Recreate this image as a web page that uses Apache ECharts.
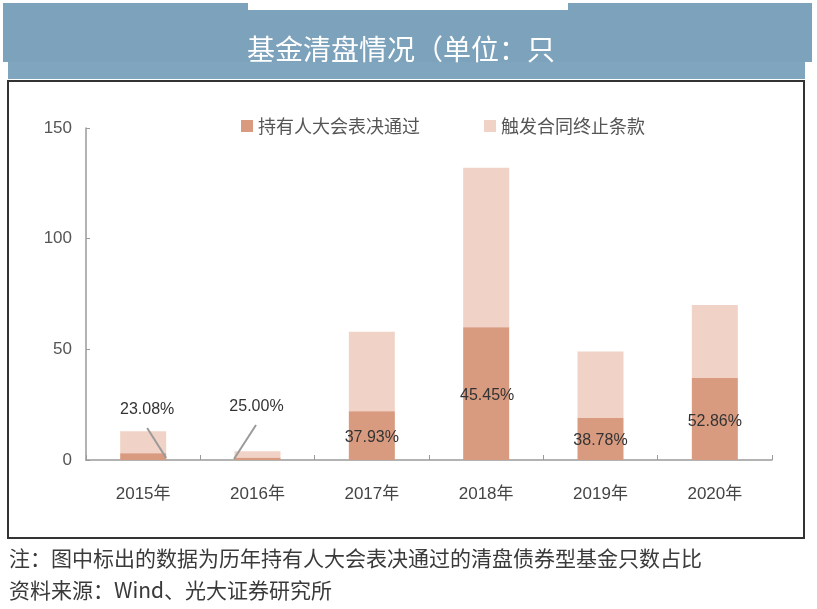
<!DOCTYPE html>
<html>
<head>
<meta charset="utf-8">
<script src="https://cdn.jsdelivr.net/npm/echarts@6/dist/echarts.min.js"></script>
<style>
html,body{margin:0;padding:0;background:#fff;}
#c{width:817px;height:609px;}
</style>
</head>
<body>
<div id="c"></div>
<script>
// ---- data ----
const categories = ['2015年','2016年','2017年','2018年','2019年','2020年'];
const voteCounts = [3, 1, 22, 60, 19, 37];          // 持有人大会表决通过
const clauseCounts = [10, 3, 36, 72, 30, 33];       // 触发合同终止条款
const yTicks = [0, 50, 100, 150];

// ---- label placement config (pixel offsets from bar centre at baseline) ----
const labelOffsets = [[4,-50],[-1,-53],[0,-22],[1,-64],[0,-19],[0,-38]];
const leaders = [
  {i:0, from:[4,-32], to:[23,-2]},
  {i:1, from:[-1.5,-35], to:[-23.5,-1]}
];

const FONT = '"Liberation Sans", "Noto Sans CJK SC", sans-serif';
const CJK = '"Noto Sans CJK SC", "Liberation Sans", sans-serif';

const shares = voteCounts.map((v, i) => (v / (v + clauseCounts[i]) * 100).toFixed(2) + '%');

const chart = echarts.init(document.getElementById('c'), null, {renderer:'canvas'});

const darkData = voteCounts.map((v, i) => ({
  value: v,
  label: {
    show: true,
    position: 'insideBottom',
    distance: 0,
    verticalAlign: 'middle',
    offset: labelOffsets[i],
    formatter: shares[i]
  }
}));

const option = {
  animation: false,
  backgroundColor: '#ffffff',
  grid: {left: 86, right: 45, top: 128, bottom: 149},
  legend: {
    left: 236, top: 112,
    itemWidth: 12, itemHeight: 12, itemGap: 64,
    icon: 'rect',
    textStyle: {fontFamily: CJK, fontSize: 18, color: '#555'},
    data: ['持有人大会表决通过','触发合同终止条款']
  },
  xAxis: {
    type: 'category',
    data: categories,
    axisLine: {lineStyle: {color: '#9a9a9a', width: 1.5}},
    axisTick: {show: true, inside: true, length: 5, lineStyle: {color: '#9a9a9a'}},
    axisLabel: {fontFamily: FONT, fontSize: 17, color: '#444', margin: 26}
  },
  yAxis: {
    type: 'value',
    min: yTicks[0], max: yTicks[yTicks.length-1], interval: 50,
    splitLine: {show: false},
    axisLine: {show: true, lineStyle: {color: '#9a9a9a', width: 1.5}},
    axisTick: {show: true, inside: true, length: 4, lineStyle: {color: '#9a9a9a'}},
    axisLabel: {fontFamily: FONT, fontSize: 17, color: '#555', margin: 14}
  },
  series: [
    {
      name: '持有人大会表决通过', type: 'bar', stack: 'a', barWidth: 46,
      itemStyle: {color: '#d99b80'},
      label: {fontFamily: FONT, fontSize: 16, color: '#333'},
      data: darkData, z: 3
    },
    {
      name: '触发合同终止条款', type: 'bar', stack: 'a', barWidth: 46,
      itemStyle: {color: '#f0d3c6'},
      data: clauseCounts, z: 2
    }
  ],
  graphic: [
    {type:'rect', z:-10, shape:{x:3,y:3,width:809,height:59}, style:{fill:'#7da2bc'}},
    {type:'rect', z:-9, shape:{x:248,y:0,width:320,height:10}, style:{fill:'#ffffff'}},
    {type:'rect', z:-10, shape:{x:8,y:62,width:797,height:17}, style:{fill:'#80a5bf'}},
    {type:'text', z:10, x:247, y:49, style:{text:'基金清盘情况（单位：只', fill:'#ffffff', font:'28px "Noto Sans CJK SC"', verticalAlign:'middle'}},
    {type:'rect', z:-5, shape:{x:8,y:81,width:796,height:457}, style:{fill:'none', stroke:'#333', lineWidth:2}},
    {type:'text', x:9, y:558, style:{text:'注：图中标出的数据为历年持有人大会表决通过的清盘债券型基金只数占比', fill:'#3a3a3a', font:'21px "Noto Sans CJK SC"', verticalAlign:'middle'}},
    {type:'text', x:9, y:590, style:{text:'资料来源：Wind、光大证券研究所', fill:'#3a3a3a', font:'21px "Noto Sans CJK SC"', verticalAlign:'middle'}}
  ]
};

chart.setOption(option);

// leader lines for the small-bar labels, positioned via the chart's own scales
const extra = leaders.map((ld, k) => {
  const p = chart.convertToPixel({xAxisIndex:0, yAxisIndex:0}, [ld.i, 0]);
  return {
    type:'line', id:'leader'+k, z:100,
    shape:{x1:p[0]+ld.from[0], y1:p[1]+ld.from[1], x2:p[0]+ld.to[0], y2:p[1]+ld.to[1]},
    style:{stroke:'#9a9a9a', lineWidth:2}
  };
});
chart.setOption({graphic: option.graphic.concat(extra)});
</script>
</body>
</html>
